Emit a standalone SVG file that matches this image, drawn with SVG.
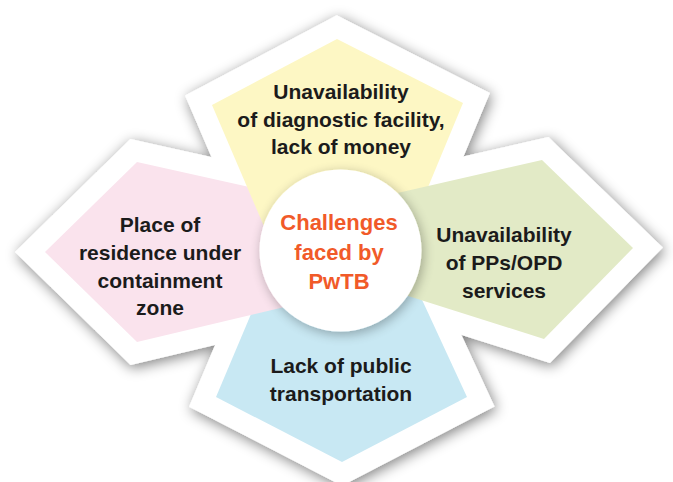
<svg xmlns="http://www.w3.org/2000/svg" width="673" height="482" viewBox="0 0 673 482">
  <defs>
    <style>
      .frame { fill: #ffffff; stroke: #ffffff; stroke-width: 42; stroke-linejoin: miter; stroke-miterlimit: 10; }
      .label { font-family: "Liberation Sans", Arial, sans-serif; font-weight: bold; font-size: 21px; fill: #1b1b1b; text-anchor: middle; }
      .hub { font-family: "Liberation Sans", Arial, sans-serif; font-weight: bold; font-size: 22px; fill: #f15a29; text-anchor: middle; }
    </style>
    <!-- soft grey shadow around the white outline of all petals -->
    <filter id="outerShadow" x="-10%" y="-10%" width="120%" height="120%">
      <feGaussianBlur in="SourceAlpha" stdDeviation="7"/>
      <feOffset dx="2" dy="3" result="off"/>
      <feComponentTransfer>
        <feFuncA type="linear" slope="0.5"/>
      </feComponentTransfer>
      <feMerge>
        <feMergeNode/>
        <feMergeNode in="SourceGraphic"/>
      </feMerge>
    </filter>
    <!-- shadow of the central disc onto the petals -->
    <filter id="hubShadow" x="-30%" y="-30%" width="160%" height="160%">
      <feGaussianBlur in="SourceAlpha" stdDeviation="6"/>
      <feOffset dx="2" dy="3"/>
      <feComponentTransfer>
        <feFuncA type="linear" slope="0.3"/>
      </feComponentTransfer>
      <feMerge>
        <feMergeNode/>
        <feMergeNode in="SourceGraphic"/>
      </feMerge>
    </filter>
  </defs>

  <rect width="673" height="482" fill="#ffffff"/>

  <!-- white borders behind the petals, shadowed as one outline -->
  <g id="frame" filter="url(#outerShadow)">
    <polygon class="frame" points="216,397 278,250 399,250 467,397 342,462"/>
    <polygon class="frame" points="137,162 335,206 335,295 137,342 45,252"/>
    <polygon class="frame" points="337,39 463,103 404,245 272,245 212,105"/>
    <polygon class="frame" points="542,160 633,248 544,339 345,276 345,205"/>
  </g>

  <g id="node-transport">
    <polygon points="216,397 278,250 399,250 467,397 342,462" fill="#c8e8f3"/>
    <text class="label" x="341" y="373">Lack of public</text>
    <text class="label" x="341" y="401">transportation</text>
  </g>

  <g id="node-residence">
    <polygon points="137,162 335,206 335,295 137,342 45,252" fill="#fae3ed"/>
    <text class="label" x="160" y="232">Place of</text>
    <text class="label" x="160" y="260">residence under</text>
    <text class="label" x="160" y="288">containment</text>
    <text class="label" x="160" y="315">zone</text>
  </g>

  <g id="node-diagnostic">
    <polygon points="337,39 463,103 404,245 272,245 212,105" fill="#fdf7c4"/>
    <text class="label" x="341" y="99">Unavailability</text>
    <text class="label" x="341" y="127">of diagnostic facility,</text>
    <text class="label" x="341" y="154">lack of money</text>
  </g>

  <g id="node-opd">
    <polygon points="542,160 633,248 544,339 345,276 345,205" fill="#e2eac6"/>
    <text class="label" x="504" y="242">Unavailability</text>
    <text class="label" x="504" y="270">of PPs/OPD</text>
    <text class="label" x="504" y="298">services</text>
  </g>

  <g id="node-center">
    <circle cx="340.5" cy="250.5" r="81" fill="#ffffff" filter="url(#hubShadow)"/>
    <text class="hub" x="339" y="230">Challenges</text>
    <text class="hub" x="339" y="259.5">faced by</text>
    <text class="hub" x="339" y="289">PwTB</text>
  </g>
</svg>
